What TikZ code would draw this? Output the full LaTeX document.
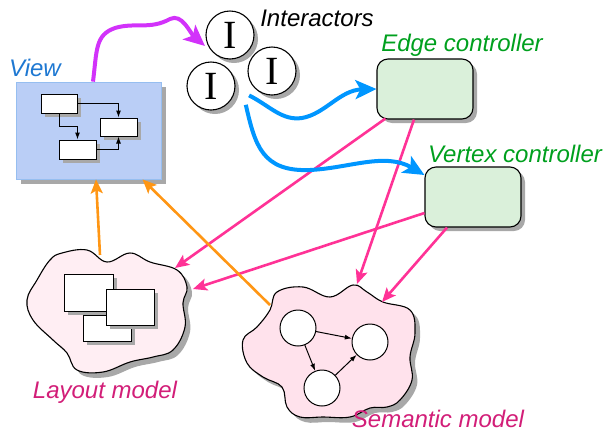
\documentclass[tikz,border=0pt]{standalone}
\usepackage{fontspec}
\setsansfont{Liberation Sans}
\newfontfamily\ifont{Liberation Serif}
\usetikzlibrary{arrows.meta,shadows,calc}
\definecolor{viewfill}{RGB}{186,206,246}
\definecolor{viewborder}{RGB}{150,190,240}
\definecolor{shgray}{RGB}{168,168,168}
\definecolor{ctrlfill}{RGB}{218,240,218}
\definecolor{layfill}{RGB}{255,238,243}
\definecolor{semfill}{RGB}{255,226,236}
\definecolor{viewtxt}{RGB}{30,120,210}
\definecolor{ctrltxt}{RGB}{0,160,30}
\definecolor{modeltxt}{RGB}{210,30,120}
\definecolor{pinkarr}{RGB}{255,50,150}
\definecolor{bluearr}{RGB}{0,150,255}
\definecolor{orangearr}{RGB}{255,150,20}
\definecolor{magarr}{RGB}{210,50,250}
\tikzset{
  lbl/.style={font=\sffamily\itshape\fontsize{24}{26}\selectfont, inner sep=0pt},
  shd/.style={drop shadow={shadow xshift=4pt,shadow yshift=-4pt,opacity=1,fill=shgray}},
  wbox/.style={draw=black, line width=1pt, fill=white, inner sep=0pt, shd},
  inter/.style={circle, draw=black, line width=1.1pt, fill=white, minimum size=48pt, inner sep=0pt, shd,
     font=\ifont\fontsize{40}{40}\selectfont},
  ctrl/.style={draw=black, line width=1.1pt, fill=ctrlfill, rounded corners=11pt, minimum width=96pt, minimum height=60pt, inner sep=0pt, shd},
  snode/.style={circle, draw=black, line width=1pt, fill=white, minimum size=36pt, inner sep=0pt},
  smallarr/.style={line width=1pt, -{Latex[length=7pt,width=5pt]}},
  pinkline/.style={draw=pinkarr, line width=2.6pt, -{Stealth[length=14pt,width=12pt,inset=3pt]}},
  orangeline/.style={draw=orangearr, line width=2.6pt, -{Stealth[length=14pt,width=12pt,inset=3pt]}},
  blueline/.style={draw=bluearr, line width=4pt, -{Stealth[length=21pt,width=19pt,inset=5pt]}},
  magline/.style={draw=magarr, line width=4pt, -{Stealth[length=21pt,width=19pt,inset=5pt]}},
}
\newcommand\layoutblob[1]{\path[#1] plot[smooth cycle, tension=0.65] coordinates {
 (62,253) (87,250) (107,262) (130,253) (150,262) (177,270) (187,287) (183,303) (185,327)
 (173,350) (153,357) (130,362) (103,372) (77,370) (67,353) (53,340) (33,320) (27,300) (37,280) (50,260)};}
\newcommand\semblob[1]{\path[#1] plot[smooth cycle, tension=0.65] coordinates {
 (277,292) (303,287) (330,297) (353,285) (367,292) (383,302) (410,310) (415,333) (410,357)
 (412,380) (400,400) (387,407) (370,408) (350,417) (323,417) (300,417) (287,407) (282,387)
 (263,377) (247,363) (243,340) (257,327) (270,310)};}
\begin{document}
\begin{tikzpicture}[x=1pt,y=-1pt]
\useasboundingbox (0,0) rectangle (603,432);

% blobs
\layoutblob{fill=shgray, shift={(5,5)}}
\layoutblob{fill=layfill, draw=black, line width=1.1pt}
\semblob{fill=shgray, shift={(5,5)}}
\semblob{fill=semfill, draw=black, line width=1.1pt}

% layout boxes
\node[wbox, minimum width=48pt, minimum height=26pt] (lc) at (107,328) {};
\node[wbox, minimum width=49pt, minimum height=37pt] (la) at (88.5,292.5) {};
\node[wbox, minimum width=48pt, minimum height=36pt] (lb) at (130,307) {};

% semantic graph
\node[snode] (s1) at (298,328) {};
\node[snode] (s2) at (370,342) {};
\node[snode] (s3) at (322,388) {};
\draw[smallarr] (s1) -- (s2);
\draw[smallarr] (s1) -- (s3);
\draw[smallarr] (s3) -- (s2);

% view
\node[draw=viewborder, fill=viewfill, line width=0.8pt, minimum width=145pt, minimum height=97pt, inner sep=0pt,
  drop shadow={shadow xshift=5pt,shadow yshift=-5pt,opacity=1,fill=shgray}] (view) at (88.5,130.5) {};
\node[wbox, minimum width=36pt, minimum height=19pt] (v1) at (59,103.5) {};
\node[wbox, minimum width=37pt, minimum height=18pt] (v2) at (118.5,127) {};
\node[wbox, minimum width=37pt, minimum height=19pt] (v3) at (77.5,149.5) {};
\draw[smallarr] (v1.east) -| (v2.north);
\draw[smallarr] (v1.south) |- ($(v1.south)!0.5!(v3.north)$) -| (v3.north);
\draw[smallarr] (v3.east) -| (v2.south);
\node[lbl, text=viewtxt] (viewlbl) at (35,68) {View};

% interactors
\node[inter] (i1) at (230,35) {I};
\node[inter] (i2) at (211,86) {I};
\node[inter] (i3) at (272,71) {I};
\node[lbl, text=black] (intlbl) at (317,18) {Interactors};

% controllers
\node[ctrl] (edge) at (425,89) {};
\node[ctrl] (vert) at (473,197) {};
\node[lbl, text=ctrltxt] (edgelbl) at (462,45) {Edge controller};
\node[lbl, text=ctrltxt] (vertlbl) at (515,154) {Vertex controller};

% model labels
\node[lbl, text=modeltxt] (laylbl) at (105,392) {Layout model};
\node[lbl, text=modeltxt] (semlbl) at (438,419) {Semantic model};

% blob anchor points
\coordinate (layA) at (175,268);
\coordinate (layB) at (193,289);
\coordinate (layT) at (100,255);
\coordinate (semA) at (357,284);
\coordinate (semB) at (382,302);
\coordinate (semT) at (270,305);

% pink connectors
\draw[pinkline] ($(edge.south west)+(9,-1)$) -- (layA);
\draw[pinkline] ($(edge.south)+(-11,0)$) -- (semA);
\draw[pinkline] ($(vert.west)+(0,16)$) -- (layB);
\draw[pinkline] ($(vert.south)+(-26,0)$) -- (semB);

% orange connectors
\draw[orangeline] (layT) -- (view.south -| 96,0);
\draw[orangeline] (semT) -- ($(view.south)+(54,0)$);

% magenta
\draw[magline] ($(view.north)+(4.5,0)$) .. controls (97,50) and (95,35) .. (115,28)
   .. controls (135,22) and (150,30) .. (170,19) .. controls (182,13) and (190,33) .. (205,46);

% blue
\draw[blueline] (i2.-20) ++(15,1) .. controls (270,106) and (282,121) .. (302,118)
   .. controls (325,114) and (340,90) .. (edge.west);
\draw[blueline] (i2.-40) ++(16,3) .. controls (255,145) and (262,172) .. (310,170)
   .. controls (350,168) and (385,152) .. ($(vert.west)+(0,-22)$);
\end{tikzpicture}
\end{document}
